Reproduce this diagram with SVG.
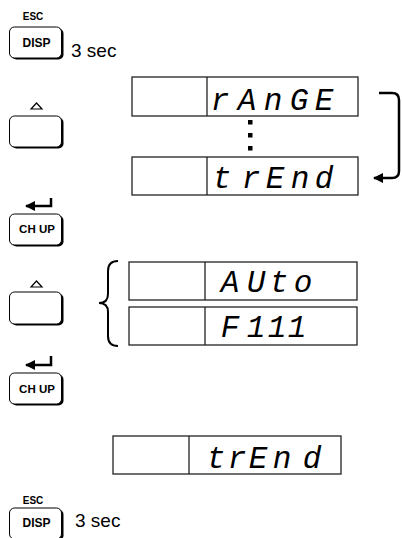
<svg xmlns="http://www.w3.org/2000/svg" width="402" height="538" viewBox="0 0 402 538">
<style>
.lbl{font-family:"Liberation Sans",Arial,sans-serif;font-weight:bold;fill:#000;text-anchor:middle}
.sec{font-family:"Liberation Sans",Arial,sans-serif;font-size:19px;fill:#000}
.seg{font-family:"Liberation Mono","DejaVu Sans Mono",monospace;font-style:italic;font-size:31px;fill:#000;text-anchor:middle}
.btn{fill:#fff;stroke:#000;stroke-width:1}
.shd{fill:#000}
.box{fill:#fff;stroke:#222;stroke-width:1.3}
.div{stroke:#222;stroke-width:1.3}
.con{fill:none;stroke:#000;stroke-width:2.5}
.tri{fill:#fff;stroke:#000;stroke-width:1.2}
</style>
<defs>
<marker id="ah" viewBox="0 0 10 10" refX="9" refY="5" markerWidth="4" markerHeight="4" orient="auto" markerUnits="strokeWidth">
<path d="M0,0 L10,5 L0,10 Z" fill="#000"/>
</marker>
</defs>

<g id="btn-disp-top">
<text class="lbl" x="33" y="20" font-size="10">ESC</text>
<rect class="shd" x="11.5" y="28.5" width="52" height="31" rx="5"/>
<rect class="btn" x="9.5" y="27" width="52" height="31" rx="5"/>
<text class="lbl" x="36.5" y="47" font-size="12">DISP</text>
<text class="sec" x="71" y="57">3 sec</text>
</g>

<g id="btn-up-1">
<path class="tri" d="M31,109 L36.5,103 L42,109 Z"/>
<rect class="shd" x="11.5" y="117.5" width="52" height="31" rx="5"/>
<rect class="btn" x="9.5" y="116" width="52" height="31" rx="5"/>
</g>

<g id="btn-chup-1">
<rect class="shd" x="11.5" y="215.5" width="52" height="31" rx="5"/>
<rect class="btn" x="9.5" y="214" width="52" height="31" rx="5"/>
<text class="lbl" x="37" y="233" font-size="11.5">CH UP</text>
</g>

<g id="btn-up-2">
<path class="tri" d="M31,287 L36.5,281 L42,287 Z"/>
<rect class="shd" x="11.5" y="293.5" width="52" height="32" rx="5"/>
<rect class="btn" x="9.5" y="292" width="52" height="32" rx="5"/>
</g>

<g id="btn-chup-2">
<rect class="shd" x="11.5" y="374.5" width="52" height="31" rx="5"/>
<rect class="btn" x="9.5" y="373" width="52" height="31" rx="5"/>
<text class="lbl" x="37" y="393" font-size="11.5">CH UP</text>
</g>

<g id="btn-disp-bottom">
<text class="lbl" x="33" y="504" font-size="10">ESC</text>
<rect class="shd" x="11.5" y="509.5" width="52" height="31" rx="5"/>
<rect class="btn" x="9.5" y="508" width="52" height="31" rx="5"/>
<text class="lbl" x="36.5" y="527" font-size="12">DISP</text>
<text class="sec" x="75" y="527">3 sec</text>
</g>

<g id="disp-range">
<rect class="box" x="132" y="77" width="226" height="39"/>
<line class="div" x1="207" y1="77" x2="207" y2="116"/>
<text class="seg" x="220 247 273 299 324" y="110">rAnGE</text>
</g>

<g id="dots">
<rect x="248" y="120" width="4.5" height="4.5" fill="#000"/>
<rect x="248" y="133" width="4.5" height="4.5" fill="#000"/>
<rect x="248" y="146" width="4.5" height="4.5" fill="#000"/>
</g>

<g id="disp-trend-1">
<rect class="box" x="132" y="157" width="226" height="38"/>
<line class="div" x1="207" y1="157" x2="207" y2="195"/>
<text class="seg" x="222 251 275 300 324" y="188">trEnd</text>
</g>

<g id="disp-auto">
<rect class="box" x="129" y="262" width="228" height="38"/>
<line class="div" x1="205" y1="262" x2="205" y2="300"/>
<text class="seg" x="230 256 279 303" y="292">AUto</text>
</g>

<g id="disp-f111">
<rect class="box" x="129" y="307" width="228" height="38"/>
<line class="div" x1="205" y1="307" x2="205" y2="345"/>
<text class="seg" x="230 256 277 297" y="337">F111</text>
</g>

<g id="disp-trend-2">
<rect class="box" x="113" y="436" width="228" height="38"/>
<line class="div" x1="189" y1="436" x2="189" y2="474"/>
<text class="seg" x="216 237 258 282 312" y="468">trEnd</text>
</g>

<g id="connectors">
<path class="con" d="M379,93 L392,93 Q399,93 399,100 L399,171 Q399,178 392,178 L374,178" marker-end="url(#ah)"/>
<path class="con" d="M51,198 L51,206 L26,206" marker-end="url(#ah)"/>
<path class="con" d="M51,356 L51,365 L26,365" marker-end="url(#ah)"/>
<path fill="none" stroke="#000" stroke-width="2" d="M118,261 Q108,261 108,271 L108,294 Q108,303 99,303 Q108,303 108,312 L108,336 Q108,346 118,346"/>
</g>
</svg>
